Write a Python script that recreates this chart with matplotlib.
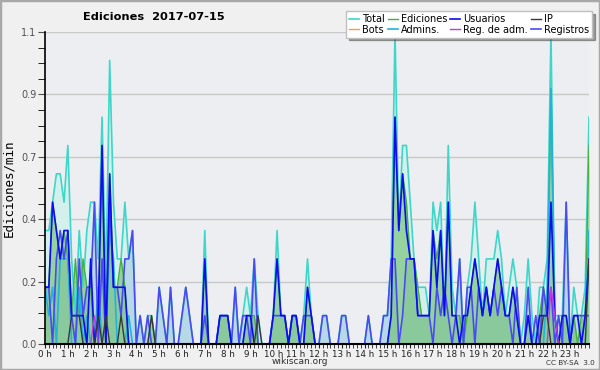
import matplotlib
matplotlib.use("Agg")
import matplotlib.pyplot as plt
import numpy as np
from matplotlib.patches import Rectangle
from matplotlib.ticker import FixedLocator, FormatStrFormatter

# 10-minute buckets, edits per minute
total = [
    0.4, 0.4, 0.5, 0.6, 0.6, 0.5,
    0.7, 0.3, 0.1, 0.4, 0.2, 0.4,
    0.5, 0.5, 0.3, 0.8, 0.2, 1.0,
    0.5, 0.3, 0.3, 0.5, 0.3, 0.4,
    0.0, 0.1, 0.0, 0.1, 0.1, 0.0,
    0.2, 0.1, 0.0, 0.2, 0.0, 0.0,
    0.1, 0.2, 0.1, 0.0, 0.0, 0.0,
    0.4, 0.0, 0.0, 0.0, 0.1, 0.1,
    0.1, 0.0, 0.2, 0.0, 0.1, 0.2,
    0.1, 0.3, 0.1, 0.0, 0.0, 0.0,
    0.1, 0.4, 0.1, 0.1, 0.0, 0.1,
    0.1, 0.0, 0.1, 0.3, 0.1, 0.0,
    0.0, 0.1, 0.1, 0.0, 0.0, 0.0,
    0.1, 0.1, 0.0, 0.0, 0.0, 0.0,
    0.0, 0.1, 0.0, 0.0, 0.0, 0.1,
    0.1, 0.3, 1.1, 0.4, 0.7, 0.7,
    0.5, 0.3, 0.2, 0.2, 0.2, 0.1,
    0.5, 0.4, 0.5, 0.1, 0.7, 0.2,
    0.1, 0.3, 0.0, 0.2, 0.3, 0.5,
    0.3, 0.1, 0.3, 0.3, 0.3, 0.4,
    0.3, 0.1, 0.2, 0.3, 0.2, 0.0,
    0.1, 0.3, 0.1, 0.0, 0.2, 0.2,
    0.3, 1.1, 0.1, 0.1, 0.1, 0.5,
    0.0, 0.2, 0.1, 0.1, 0.2, 0.8,
]
ediciones = [
    0.2, 0.2, 0.5, 0.4, 0.3, 0.4,
    0.3, 0.1, 0.3, 0.1, 0.3, 0.2,
    0.2, 0.0, 0.1, 0.7, 0.0, 0.6,
    0.2, 0.2, 0.3, 0.2, 0.0, 0.0,
    0.0, 0.0, 0.0, 0.0, 0.1, 0.0,
    0.0, 0.0, 0.0, 0.0, 0.0, 0.0,
    0.0, 0.0, 0.0, 0.0, 0.0, 0.0,
    0.3, 0.0, 0.0, 0.0, 0.1, 0.1,
    0.1, 0.0, 0.0, 0.0, 0.0, 0.1,
    0.1, 0.1, 0.0, 0.0, 0.0, 0.0,
    0.1, 0.3, 0.1, 0.1, 0.0, 0.1,
    0.1, 0.0, 0.0, 0.2, 0.1, 0.0,
    0.0, 0.0, 0.0, 0.0, 0.0, 0.0,
    0.0, 0.0, 0.0, 0.0, 0.0, 0.0,
    0.0, 0.0, 0.0, 0.0, 0.0, 0.0,
    0.0, 0.1, 0.8, 0.4, 0.6, 0.5,
    0.3, 0.3, 0.2, 0.1, 0.1, 0.1,
    0.4, 0.3, 0.4, 0.1, 0.5, 0.1,
    0.1, 0.1, 0.0, 0.1, 0.2, 0.3,
    0.2, 0.1, 0.2, 0.1, 0.2, 0.3,
    0.2, 0.1, 0.1, 0.2, 0.1, 0.0,
    0.0, 0.1, 0.0, 0.0, 0.1, 0.2,
    0.1, 0.9, 0.1, 0.0, 0.1, 0.1,
    0.0, 0.1, 0.0, 0.1, 0.1, 0.7,
]
usuarios = [
    0.2, 0.2, 0.5, 0.4, 0.3, 0.4,
    0.4, 0.1, 0.1, 0.1, 0.1, 0.0,
    0.3, 0.0, 0.1, 0.7, 0.0, 0.6,
    0.2, 0.2, 0.2, 0.2, 0.0, 0.0,
    0.0, 0.0, 0.0, 0.0, 0.0, 0.0,
    0.0, 0.0, 0.0, 0.0, 0.0, 0.0,
    0.0, 0.0, 0.0, 0.0, 0.0, 0.0,
    0.3, 0.0, 0.0, 0.0, 0.1, 0.1,
    0.1, 0.0, 0.0, 0.0, 0.0, 0.1,
    0.1, 0.0, 0.0, 0.0, 0.0, 0.0,
    0.1, 0.3, 0.1, 0.1, 0.0, 0.1,
    0.1, 0.0, 0.0, 0.2, 0.1, 0.0,
    0.0, 0.0, 0.0, 0.0, 0.0, 0.0,
    0.0, 0.0, 0.0, 0.0, 0.0, 0.0,
    0.0, 0.0, 0.0, 0.0, 0.0, 0.0,
    0.0, 0.1, 0.8, 0.4, 0.6, 0.4,
    0.3, 0.3, 0.1, 0.1, 0.1, 0.1,
    0.4, 0.2, 0.4, 0.1, 0.5, 0.1,
    0.1, 0.0, 0.1, 0.1, 0.2, 0.3,
    0.2, 0.1, 0.2, 0.1, 0.2, 0.3,
    0.2, 0.1, 0.1, 0.2, 0.1, 0.0,
    0.0, 0.1, 0.0, 0.0, 0.1, 0.1,
    0.1, 0.5, 0.1, 0.0, 0.1, 0.1,
    0.0, 0.1, 0.1, 0.0, 0.1, 0.3,
]
registros = [
    0.2, 0.2, 0.0, 0.3, 0.4, 0.3,
    0.4, 0.1, 0.0, 0.3, 0.1, 0.2,
    0.2, 0.5, 0.0, 0.3, 0.0, 0.5,
    0.2, 0.2, 0.1, 0.3, 0.3, 0.4,
    0.0, 0.1, 0.0, 0.1, 0.0, 0.0,
    0.2, 0.1, 0.0, 0.2, 0.0, 0.0,
    0.1, 0.2, 0.1, 0.0, 0.0, 0.0,
    0.1, 0.0, 0.0, 0.0, 0.1, 0.1,
    0.1, 0.0, 0.2, 0.0, 0.1, 0.1,
    0.0, 0.3, 0.0, 0.0, 0.0, 0.0,
    0.1, 0.1, 0.1, 0.1, 0.0, 0.1,
    0.1, 0.0, 0.1, 0.1, 0.1, 0.0,
    0.0, 0.1, 0.1, 0.0, 0.0, 0.0,
    0.1, 0.1, 0.0, 0.0, 0.0, 0.0,
    0.0, 0.1, 0.0, 0.0, 0.0, 0.1,
    0.1, 0.3, 0.3, 0.0, 0.1, 0.3,
    0.3, 0.3, 0.1, 0.1, 0.1, 0.1,
    0.0, 0.2, 0.1, 0.2, 0.1, 0.0,
    0.1, 0.3, 0.0, 0.2, 0.2, 0.0,
    0.2, 0.1, 0.2, 0.1, 0.2, 0.1,
    0.2, 0.1, 0.1, 0.0, 0.2, 0.0,
    0.0, 0.2, 0.0, 0.1, 0.0, 0.2,
    0.1, 0.2, 0.0, 0.1, 0.0, 0.5,
    0.0, 0.1, 0.1, 0.1, 0.1, 0.1,
]
admins_pts = {0: 0.2, 1: 0.1, 2: 0.2, 4: 0.3, 5: 0.3, 6: 0.3, 9: 0.2, 11: 0.1,
              14: 0.2, 17: 0.4, 18: 0.3, 22: 0.1, 132: 0.2, 133: 0.9, 134: 0.1,
              142: 0.1, 143: 0.4}
ip_pts = {7: 0.1, 8: 0.1, 9: 0.1, 14: 0.1, 16: 0.1, 20: 0.1, 28: 0.1,
          56: 0.1, 131: 0.1, 132: 0.1, 143: 0.3}
regadm_pts = {13: 0.1, 133: 0.2, 134: 0.1}
admins = [admins_pts.get(i, 0.0) for i in range(144)]
ip = [ip_pts.get(i, 0.0) for i in range(144)]
regadm = [regadm_pts.get(i, 0.0) for i in range(144)]
bots = [0.0] * 144

hours = [f"{h} h" for h in range(24)]
x = np.arange(len(total))

fig = plt.figure(figsize=(6, 3.7), dpi=100, facecolor="#f0f0f0")
fig.patches.append(Rectangle((0, 0), 1, 1, transform=fig.transFigure,
                             fill=False, edgecolor="#a8a8a8", linewidth=2.5))
ax = fig.add_axes([0.075, 0.0703, 0.9067, 0.8432])
ax.set_facecolor("#eceef1")

ax.fill_between(x, total, color="#d4f0ec", lw=0)
ax.fill_between(x, registros, color="#a8cce4", alpha=0.65, lw=0)
ax.fill_between(x, ediciones, color="#6cbf6c", alpha=0.6, lw=0)

ax.plot(x, total, color="#3ed6c8", lw=1.2, label="Total")
ax.plot(x, bots, color="#f0a040", lw=1.0, label="Bots")
ax.plot(x, ediciones, color="#44b044", lw=1.0, label="Ediciones")
ax.plot(x, admins, color="#22b4d8", lw=1.2, label="Admins.")
ax.plot(x, registros, color="#4a4af2", lw=1.2, label="Registros")
ax.plot(x, usuarios, color="#0c0cf0", lw=1.2, label="Usuarios")
ax.plot(x, regadm, color="#c838e0", lw=1.0, label="Reg. de adm.")
ax.plot(x, ip, color="#383838", lw=1.0, label="IP")

ax.set_xlim(0, 143)
ax.set_ylim(0, 1.1)
ax.yaxis.set_major_locator(FixedLocator(np.linspace(0, 1.1, 6)))
ax.yaxis.set_minor_locator(FixedLocator(np.linspace(0, 1.1, 21)))
ax.yaxis.set_major_formatter(FormatStrFormatter("%.1f"))
ax.set_xticks(np.arange(0, 144, 6))
ax.set_xticklabels(hours)
ax.set_xticks(np.arange(0, 144), minor=True)
ax.grid(axis="y", which="major", color="#c8c8c8", lw=1)
ax.set_axisbelow(True)
for s in ("top", "right"):
    ax.spines[s].set_visible(False)
ax.spines["left"].set_linewidth(1.2)
ax.spines["bottom"].set_linewidth(1.5)
ax.tick_params(axis="y", which="major", length=5, labelsize=7, colors="#505050", pad=1)
ax.tick_params(axis="y", which="minor", length=5)
ax.tick_params(axis="x", which="both", length=3, labelsize=6.3, colors="#202020", pad=1)
ax.set_ylabel("Ediciones/min", fontsize=9, family="DejaVu Sans Mono", labelpad=4)

fig.text(0.257, 0.953, "Ediciones  2017-07-15", ha="center", va="center",
         fontsize=8.2, fontweight="bold")
fig.text(0.5, 0.022, "wikiscan.org", ha="center", va="center", fontsize=6.5, color="#303030")
fig.text(0.95, 0.02, "CC BY-SA  3.0", ha="center", va="center", fontsize=5.2, color="#303030")

handles, labels = ax.get_legend_handles_labels()
order = ["Total", "Bots", "Ediciones", "Admins.", "Usuarios", "Reg. de adm.", "IP", "Registros"]
hmap = dict(zip(labels, handles))
leg = fig.legend([hmap[k] for k in order], order, ncol=4, loc="upper right",
                 bbox_to_anchor=(0.99, 0.975), fontsize=7, frameon=True,
                 fancybox=False, shadow=True, handlelength=1.0, handletextpad=0.35,
                 columnspacing=0.3, labelspacing=0.05, borderpad=0.3,
                 borderaxespad=0.2)
leg.get_frame().set_edgecolor("#c0c0c0")

fig.savefig("out.png", dpi=100, facecolor=fig.get_facecolor())
